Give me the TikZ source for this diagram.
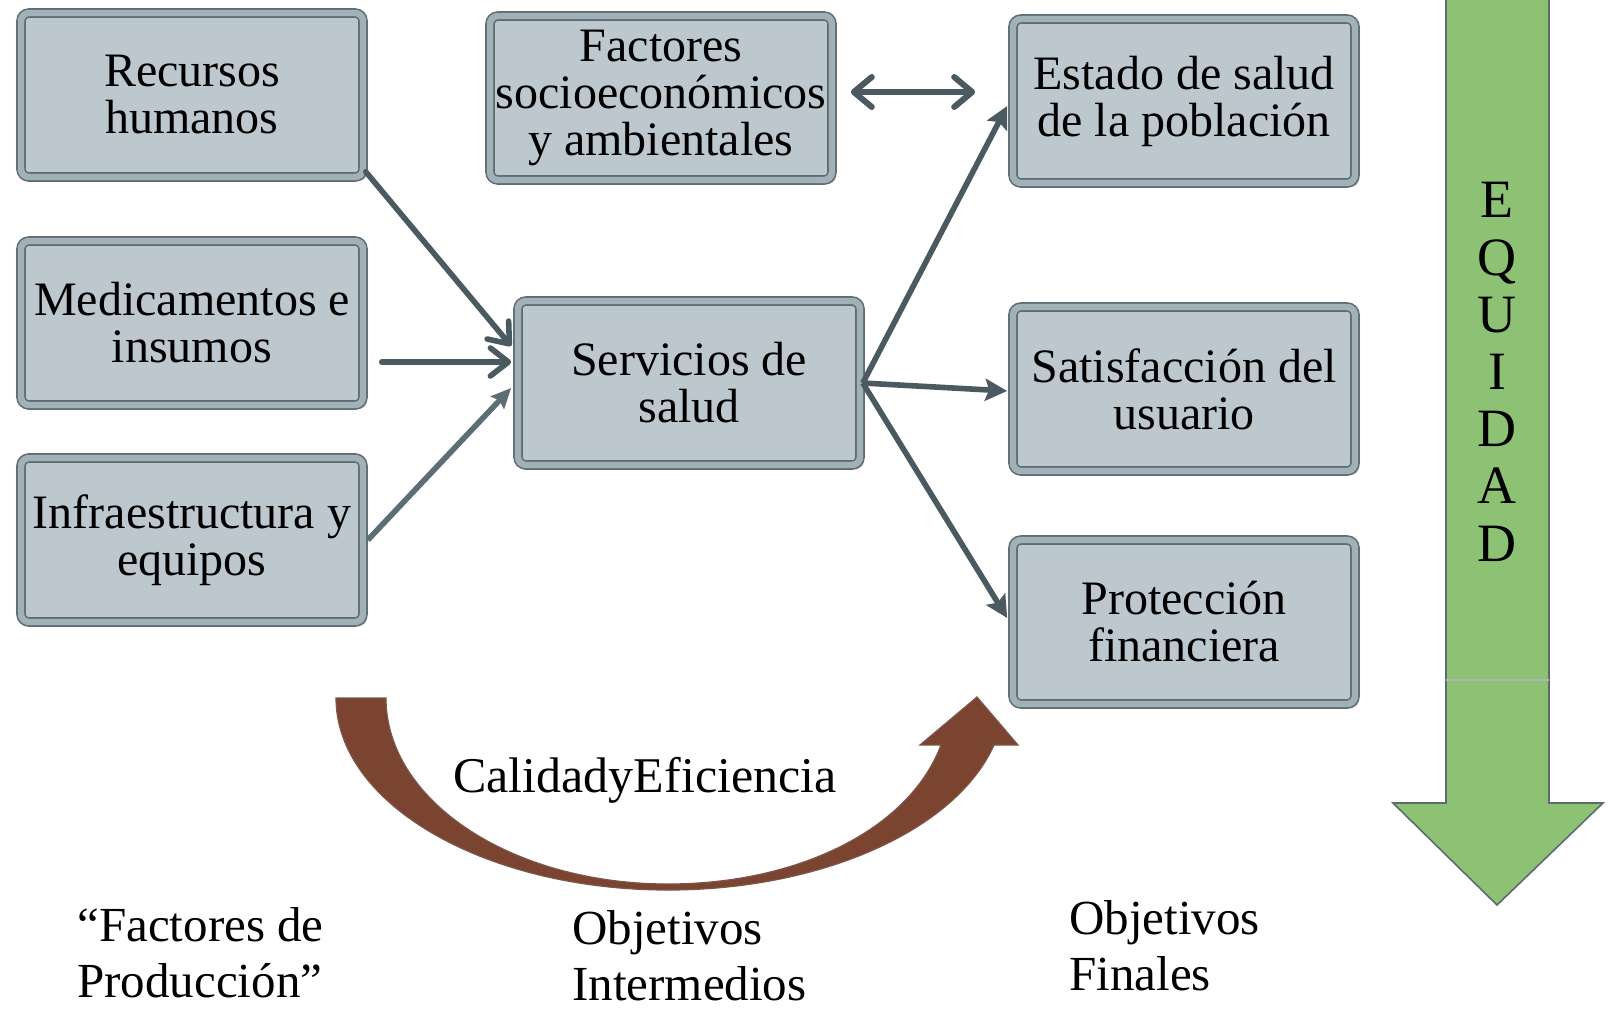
\documentclass[tikz,border=0pt]{standalone}
\usepackage{fontspec}
\setmainfont{Liberation Serif}
\usetikzlibrary{arrows.meta,calc,shadows}
\definecolor{boxfill}{HTML}{BCC8CE}
\definecolor{bevel}{HTML}{A2B0B7}
\definecolor{boxedge}{HTML}{5E6D74}
\definecolor{conn}{HTML}{4B5A61}
\definecolor{connlight}{HTML}{5D6D74}
\definecolor{eqgreen}{HTML}{8DC275}
\definecolor{greenedge}{HTML}{5C6B70}
\definecolor{arcbrown}{HTML}{7A4431}
\begin{document}
\begin{tikzpicture}[x=0.5pt,y=-0.5pt,
  box/.style={rounded corners=4pt, fill=boxfill, draw=boxedge, line width=0.8pt,
    double=bevel, double distance=3.2pt, minimum width=171pt, minimum height=82pt,
    align=center, inner sep=0pt, font=\fontsize{24}{23.5}\selectfont,
    drop shadow={shadow xshift=2pt, shadow yshift=-2pt, opacity=0.22, fill=black}},
  lab/.style={align=left, inner sep=0pt, font=\fontsize{24.5}{28}\selectfont},
  barb/.style={draw=conn, line width=2.8pt, line cap=round,
    -{Straight Barb[length=9pt, width=14pt, round]}},
  dbarb/.style={draw=conn, line width=3pt, line cap=round,
    {Straight Barb[length=9pt, width=15pt, round]}-{Straight Barb[length=9pt, width=15pt, round]}},
  tri/.style={draw=conn, line width=2.8pt,
    -{Stealth[length=11pt, width=11pt, inset=2pt]}},
  trilight/.style={draw=connlight, line width=2.8pt,
    -{Stealth[length=10pt, width=9pt, inset=1.5pt]}}
]
\useasboundingbox (0,0) rectangle (1608,1008);
\fill[white] (0,0) rectangle (1608,1008);

% Equidad arrow
\filldraw[fill=eqgreen, draw=greenedge, line width=0.8pt]
  (1446,-5) -- (1446,803) -- (1393,803) -- (1497,905) -- (1603,803)
  -- (1549,803) -- (1549,-5) -- cycle;
\draw[greenedge!50, line width=0.6pt] (1446,680) -- (1549,680);
\node[font=\fontsize{27}{28.6}\selectfont, align=center, inner sep=0pt, anchor=base]
  (eq) at (1497,561) {E\\Q\\U\\I\\D\\A\\D};

% Curved arrow
\filldraw[fill=arcbrown, draw=arcbrown!70!gray, line width=0.6pt]
  (336,698) .. controls (336,804) and (485,890) .. (668,890)
  .. controls (822,890) and (956,830) .. (994,745)
  -- (1018,745) -- (977,697) -- (920,745) -- (941,745)
  .. controls (909,830) and (797,884) .. (668,884)
  .. controls (512,884) and (386,801) .. (386,698) -- cycle;
\node[font=\fontsize{25}{26}\selectfont, inner sep=0pt, anchor=base]
  (calef) at (645,792) {CalidadyEficiencia};

% Boxes
\node[box] (rec)  at (192,95)  {Recursos\\humanos};
\node[box] (med)  at (192,323) {Medicamentos e\\insumos};
\node[box] (inf)  at (192,540) {Infraestructura y\\equipos};
\node[box] (fac)  at (661,98)  {Factores\\socioeconómicos\\y ambientales};
\node[box] (serv) at (689,383) {Servicios de\\salud};
\node[box] (est)  at (1184,101) {Estado de salud\\de la población};
\node[box] (sat)  at (1184,389) {Satisfacción del\\usuario};
\node[box] (prot) at (1184,622) {Protección\\financiera};

% Connectors
\draw[barb] ($(rec.south east)+(2,-6)$) -- ($(serv.west)+(-6,-37)$);
\draw[barb] ($(med.east)+(18,39)$) -- ($(serv.west)+(-6,-21)$);
\draw[trilight] ($(inf.east)+(4,0)$) -- ($(serv.west)+(-6,5)$);
\draw[tri] ($(serv.east)+(2,0)$) -- ($(est.west)+(-5,5)$);
\draw[tri] ($(serv.east)+(2,0)$) -- ($(sat.west)+(-5,2)$);
\draw[tri] ($(serv.east)+(2,0)$) -- ($(prot.west)+(-5,-4)$);
\draw[dbarb] ($(fac.east)+(18,-6)$) -- ($(est.west)+(-37,-9)$);

% Bottom labels
\node[lab, anchor=base west] (fp) at (77,997) {“Factores de\\Producción”};
\node[lab, anchor=base west] (oi) at (572,1000) {Objetivos\\Intermedios};
\node[lab, anchor=base west] (of) at (1069,990) {Objetivos\\Finales};
\end{tikzpicture}
\end{document}
